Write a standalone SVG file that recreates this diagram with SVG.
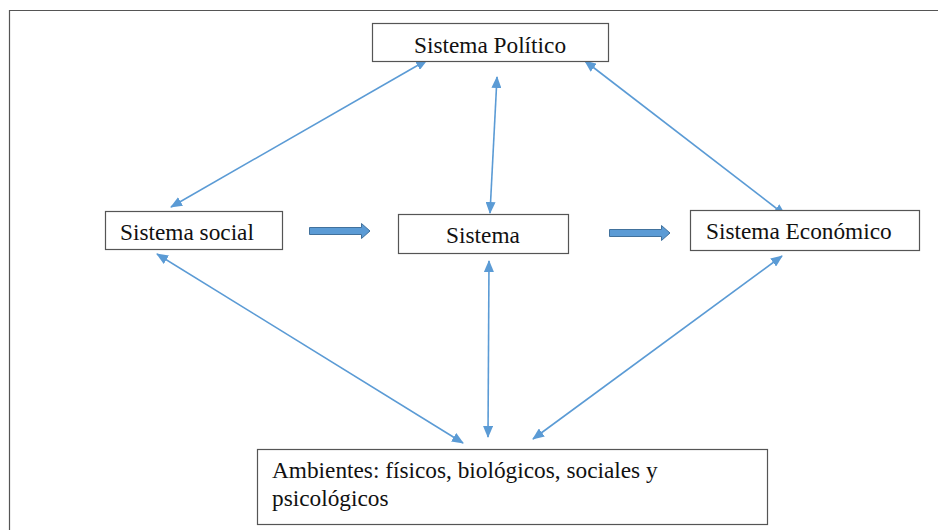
<svg xmlns="http://www.w3.org/2000/svg" width="938" height="530" viewBox="0 0 938 530">
<style>
.box{fill:#fff;stroke:#555;stroke-width:1.2}
.t{font-family:"Liberation Serif","Times New Roman",serif;font-size:23.3px;fill:#111}
.c{stroke:#5B9BD5;stroke-width:1.6;fill:none;marker-start:url(#ah);marker-end:url(#ah)}
.blk{fill:#5B9BD5;stroke:#41719C;stroke-width:1}
</style>
<defs>
<marker id="ah" viewBox="0 0 12 10" refX="11" refY="5" markerWidth="12" markerHeight="10" markerUnits="userSpaceOnUse" orient="auto-start-reverse">
<path d="M0,0 L12,5 L0,10 Z" fill="#5B9BD5"/>
</marker>
</defs>
<rect width="938" height="530" fill="#fff"/>
<path d="M9.5,530 V10.5 H938" fill="none" stroke="#555" stroke-width="1.2"/>
<g id="connectors">
<line class="c" x1="427" y1="60" x2="171" y2="207"/>
<line class="c" x1="497" y1="77" x2="490" y2="213"/>
<line class="c" x1="585" y1="61" x2="785" y2="215"/>
<line class="c" x1="157" y1="254" x2="463" y2="443"/>
<line class="c" x1="489" y1="261" x2="488" y2="437"/>
<line class="c" x1="782" y1="256" x2="533" y2="439"/>
<path class="blk" d="M309.5,227.5 H361.5 V223.5 L370,231 L361.5,238.5 V234.5 H309.5 Z"/>
<path class="blk" d="M609.5,229.5 H661.5 V225.5 L670,233 L661.5,240.5 V236.5 H609.5 Z"/>
</g>
<g id="politico">
<rect class="box" x="372.5" y="23.5" width="236" height="38"/>
<text class="t" x="490" y="53" text-anchor="middle">Sistema Político</text>
</g>
<g id="social">
<rect class="box" x="105.5" y="211.5" width="177" height="38"/>
<text class="t" x="120" y="240">Sistema social</text>
</g>
<g id="sistema">
<rect class="box" x="398.5" y="214.5" width="170" height="39"/>
<text class="t" x="483" y="243" text-anchor="middle">Sistema</text>
</g>
<g id="economico">
<rect class="box" x="690.5" y="210.5" width="229" height="40"/>
<text class="t" x="706" y="239">Sistema Económico</text>
</g>
<g id="ambientes">
<rect class="box" x="257.5" y="449.5" width="510" height="75"/>
<text class="t" x="272" y="478">Ambientes: físicos, biológicos, sociales y</text>
<text class="t" x="272" y="506">psicológicos</text>
</g>
</svg>
